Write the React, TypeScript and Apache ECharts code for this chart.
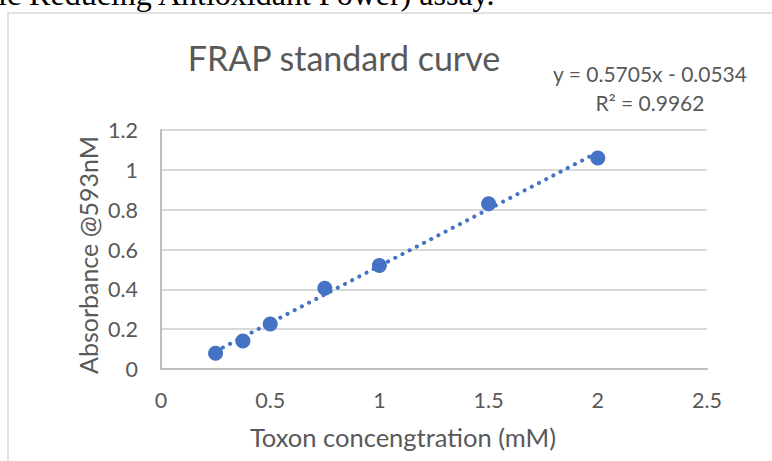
import React, { useEffect, useRef } from "react";
import * as echarts from "echarts";

const concentrations = [0.25, 0.375, 0.5, 0.75, 1, 1.5, 2];
const absorbances = [0.079, 0.141, 0.226, 0.405, 0.52, 0.83, 1.06];
const trendlinePoints: [number, number][] = [
  [0.25, 0.089],
  [2, 1.088],
];
const xTicks = { min: 0, max: 2.5, interval: 0.5 };
const yTicks = { min: 0, max: 1.2, interval: 0.2 };
const chartTitle = "FRAP standard curve";
const equationLine = "y = 0.5705x - 0.0534";
const rSquaredLine = "R² = 0.9962";
const xAxisTitle = "Toxon concengtration (mM)";
const yAxisTitle = "Absorbance @593nM";
const captionText = "ic Reducing Antioxidant Power) assay.";

const FONT = "Lato";
const TEXT = "#595959";
const BLUE = "#4472C4";

export default function App() {
  const ref = useRef<HTMLDivElement>(null);
  useEffect(() => {
    if (!ref.current) return;
    const chart = echarts.init(ref.current, undefined, { renderer: "svg" });
    chart.setOption({
      animation: false,
      backgroundColor: "#ffffff",
      textStyle: { fontFamily: FONT, color: TEXT },
      grid: { left: 161, right: 65, top: 130, bottom: 92, containLabel: false },
      xAxis: {
        type: "value",
        min: xTicks.min,
        max: xTicks.max,
        interval: xTicks.interval,
        axisLine: { show: true, lineStyle: { color: "#bfbfbf", width: 2 } },
        axisTick: { show: false },
        splitLine: { show: false },
        axisLabel: { fontFamily: FONT, fontSize: 21.5, color: TEXT, margin: 20 },
      },
      yAxis: {
        type: "value",
        min: yTicks.min,
        max: yTicks.max,
        interval: yTicks.interval,
        axisLine: { show: true, lineStyle: { color: "#bfbfbf", width: 2 } },
        axisTick: { show: false },
        splitLine: { show: true, lineStyle: { color: "#d9d9d9", width: 2 } },
        axisLabel: { fontFamily: FONT, fontSize: 21.5, color: TEXT, margin: 23 },
      },
      series: [
        {
          type: "line",
          data: trendlinePoints,
          symbol: "none",
          z: 2,
          lineStyle: { color: BLUE, width: 4, type: [0.1, 8], cap: "round", opacity: 1 },
        },
        {
          type: "scatter",
          data: concentrations.map((x, i) => [x, absorbances[i]]),
          symbol: "circle",
          symbolSize: 15,
          z: 3,
          itemStyle: { color: BLUE, opacity: 1 },
        },
      ],
      graphic: [
        {
          type: "rect",
          shape: { x: 8, y: 13, width: 900, height: 600 },
          style: { fill: "none", stroke: "#d9d9d9", lineWidth: 1.5 },
          silent: true,
        },
        {
          type: "text",
          x: -2,
          y: 10,
          style: {
            text: captionText,
            font: "32px 'Liberation Serif'",
            fill: "#000000",
            textAlign: "left",
            textVerticalAlign: "bottom",
          },
        },
        {
          type: "text",
          x: 344,
          y: 57,
          style: {
            text: chartTitle,
            fontFamily: FONT,
            fontSize: 34,
            fill: TEXT,
            textAlign: "center",
            textVerticalAlign: "middle",
          },
        },
        {
          type: "text",
          x: 650,
          y: 73,
          style: {
            text: equationLine,
            fontFamily: FONT,
            fontSize: 21,
            fill: TEXT,
            textAlign: "center",
            textVerticalAlign: "middle",
          },
        },
        {
          type: "text",
          x: 650,
          y: 102,
          style: {
            text: rSquaredLine,
            fontFamily: FONT,
            fontSize: 21,
            fill: TEXT,
            textAlign: "center",
            textVerticalAlign: "middle",
          },
        },
        {
          type: "text",
          x: 403,
          y: 437,
          style: {
            text: xAxisTitle,
            fontFamily: FONT,
            fontSize: 25.5,
            fill: TEXT,
            textAlign: "center",
            textVerticalAlign: "middle",
          },
        },
        {
          type: "text",
          x: 88,
          y: 255,
          rotation: Math.PI / 2,
          style: {
            text: yAxisTitle,
            fontFamily: FONT,
            fontSize: 25,
            fill: TEXT,
            textAlign: "center",
            textVerticalAlign: "middle",
          },
        },
      ],
    });
    return () => chart.dispose();
  }, []);
  return (
    <div
      ref={ref}
      style={{ position: "absolute", left: 0, top: 0, width: 772, height: 461, background: "#fff" }}
    />
  );
}
